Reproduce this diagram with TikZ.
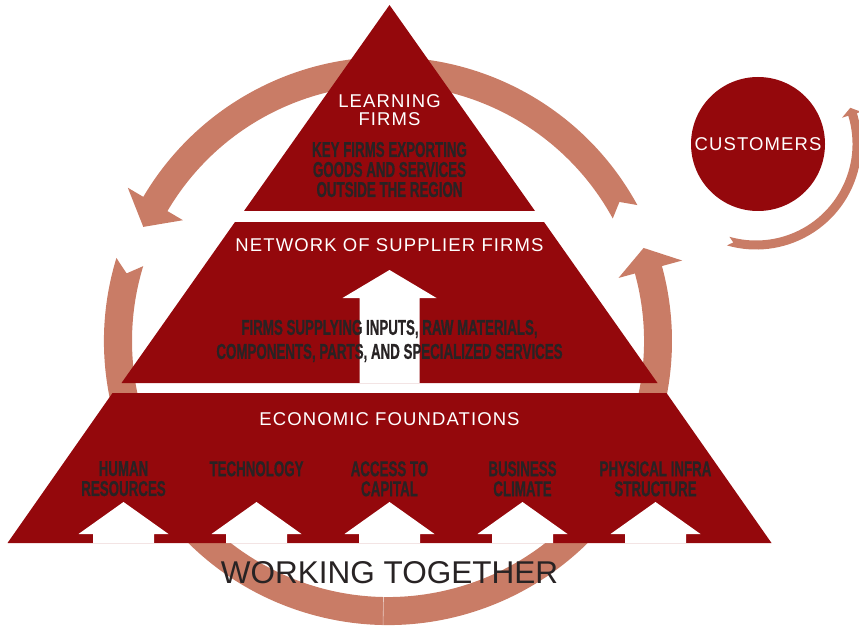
\documentclass[tikz,border=0pt]{standalone}
\usepackage{fontspec}
\setmainfont{Liberation Sans}
\newfontfamily\titlefont[LetterSpace=6]{Liberation Sans}
\newfontfamily\condfont[FakeStretch=0.62,BoldFeatures={FakeBold=0.6}]{Liberation Sans}
\usepackage{xcolor}
\usepackage{tikz}
\usetikzlibrary{positioning}

\definecolor{pyrred}{RGB}{148,8,12}
\definecolor{loopcol}{RGB}{201,124,102}
\definecolor{inktext}{RGB}{40,35,36}

\tikzset{layer/.style = {fill=pyrred}, loop arrow/.style = {fill=loopcol}}

\begin{document}
\begin{tikzpicture}[x=1pt,y=1pt,
    title/.style={text=white,font=\titlefont\fontsize{18.5}{18}\selectfont,align=center,inner sep=0pt},
    body/.style={text=inktext,font=\condfont\bfseries\fontsize{21.5}{20}\selectfont,align=center,inner sep=0pt},
    up arrow/.style={fill=white}]
    \useasboundingbox (0,0) rectangle (859,625);

    % the big loop behind the pyramid
    \begin{scope}[shift={(388,284)}]
        \fill[loop arrow] (28.6:284) arc[start angle=28.6,end angle=149.5,radius=284]
            -- (149.5:302) -- (155:270) -- (149.5:238) -- (149.5:256)
            arc[start angle=149.5,end angle=28.6,radius=256] -- (31:270) -- cycle;
        \fill[loop arrow] (163:284) arc[start angle=163,end angle=375.3,radius=284]
            -- (375.3:305) -- (380:272) -- (375.3:239) -- (375.3:256)
            arc[start angle=375.3,end angle=163,radius=256] -- (165.5:270) -- cycle;
        \draw[white,opacity=0.6,line width=0.6pt] (269:255) -- (269:285);
    \end{scope}

    % pyramid layers
    \fill[layer] (389.5,620) -- (535,414) -- (244,414) -- cycle;
    \fill[layer] (235,403) -- (544,403) -- (657.5,242) -- (121.5,242) -- cycle;
    \fill[layer] (112.5,232) -- (666.5,232) -- (771.5,82) -- (7.5,82) -- cycle;

    % white arrows
    \fill[up arrow] (359.5,242) -- (359.5,327) -- (342.5,327) -- (389.5,355)
        -- (436.5,327) -- (419.5,327) -- (419.5,242) -- cycle;
    \foreach \x in {123.5,256.5,389.5,522.5,655.5}
        \fill[up arrow] (\x-30.5,82) -- (\x-30.5,91) -- (\x-45,91) -- (\x,123)
            -- (\x+45,91) -- (\x+30.5,91) -- (\x+30.5,82) -- cycle;

    % texts
    \node[title] (learn) at (389.5,515) {LEARNING\\FIRMS};
    \node[body] (keyfirms) [below=16pt of learn] {KEY FIRMS EXPORTING\\GOODS AND SERVICES\\OUTSIDE THE REGION};
    \node[title] (net) at (389.5,380) {NETWORK OF SUPPLIER FIRMS};
    \node[body,font=\condfont\bfseries\fontsize{21.5}{24}\selectfont] (supply) at (389.5,284)
        {FIRMS SUPPLYING INPUTS, RAW MATERIALS,\\COMPONENTS, PARTS, AND SPECIALIZED SERVICES};
    \node[title] (econ) at (389.5,206) {ECONOMIC FOUNDATIONS};
    \node[body,anchor=north] (human) at (123.5,164) {HUMAN\\RESOURCES};
    \node[body,anchor=north] (tech) at (256.5,164) {TECHNOLOGY};
    \node[body,anchor=north] (capital) at (389.5,164) {ACCESS TO\\CAPITAL};
    \node[body,anchor=north] (climate) at (522.5,164) {BUSINESS\\CLIMATE};
    \node[body,anchor=north] (infra) at (655.5,164) {PHYSICAL INFRA\\STRUCTURE};
    \node[text=inktext,font=\fontsize{31.5}{31}\selectfont] (together) at (389.5,52) {WORKING TOGETHER};

    % customers and their loop
    \begin{scope}[shift={(756,481)}]
        \fill[loop arrow] (254:105.5) arc[start angle=254,end angle=377,radius=105.5]
            -- (377:110) -- (381:101) -- (377:90) -- (377:96.5)
            arc[start angle=377,end angle=254,radius=96.5] -- (257:101) -- cycle;
    \end{scope}
    \node[circle,fill=pyrred,minimum size=134pt,title] (cust) at (758,481) {CUSTOMERS};
\end{tikzpicture}
\end{document}
